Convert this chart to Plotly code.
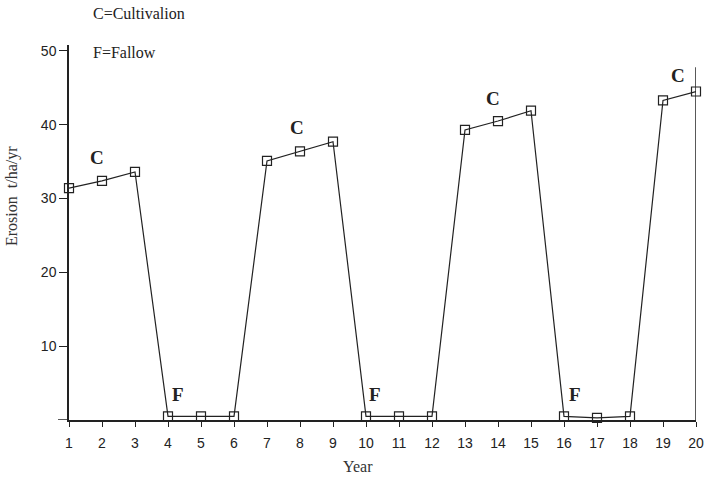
import plotly.graph_objects as go

years = list(range(1, 21))
erosion = [31.4, 32.4, 33.6, 0.5, 0.5, 0.5, 35.1, 36.4, 37.7, 0.5,
           0.5, 0.5, 39.3, 40.5, 41.9, 0.5, 0.3, 0.5, 43.3, 44.5]
x_ticks = list(range(1, 21))
y_ticks = [10, 20, 30, 40, 50]

c_labels_x = [1.85, 7.9, 13.85, 19.45]
c_labels_y = [35.5, 39.6, 43.6, 46.7]
f_labels_x = [4.3, 10.27, 16.33]
f_labels_y = [3.4, 3.5, 3.5]

serif = "Liberation Serif, Times New Roman, serif"
sans = "Liberation Sans, Arial, sans-serif"

W, H = 708, 479
L, R, T, B = 69, 12, 45, 59

def px(xp):
    return (xp - L) / (W - L - R)

def py(yp):
    return 1 - (yp - T) / (H - T - B)

fig = go.Figure()
fig.add_trace(go.Scatter(
    x=years, y=erosion, mode="lines+markers",
    line=dict(color="#222", width=1.2),
    marker=dict(symbol="square-open", size=9, color="#222", line=dict(width=1.2)),
    showlegend=False, cliponaxis=False,
))

for x, y in zip(c_labels_x, c_labels_y):
    fig.add_annotation(x=x, y=y, text="<b>C</b>", showarrow=False,
                       xanchor="center", yanchor="middle",
                       font=dict(family=serif, size=19, color="#222"))
for x, y in zip(f_labels_x, f_labels_y):
    fig.add_annotation(x=x, y=y, text="<b>F</b>", showarrow=False,
                       xanchor="center", yanchor="middle",
                       font=dict(family=serif, size=19, color="#222"))

fig.add_annotation(x=px(91), y=py(13), xref="paper", yref="paper", xanchor="left",
                   yanchor="middle", text="C=Cultivalion", showarrow=False,
                   font=dict(family=serif, size=16, color="#222"))
fig.add_annotation(x=px(91), y=py(53), xref="paper", yref="paper", xanchor="left",
                   yanchor="middle", text="F=Fallow", showarrow=False,
                   font=dict(family=serif, size=16, color="#222"))
fig.add_annotation(x=px(12), y=py(196), xref="paper", yref="paper",
                   xanchor="center", yanchor="middle",
                   text="Erosion  t/ha/yr", textangle=-90, showarrow=False,
                   font=dict(family=serif, size=16, color="#333"))
fig.add_annotation(x=px(358), y=py(466), xref="paper", yref="paper",
                   xanchor="center", yanchor="middle",
                   text="Year", showarrow=False,
                   font=dict(family=serif, size=16, color="#333"))

fig.add_shape(type="line", x0=20, x1=20, y0=0, y1=47.8, xref="x", yref="y",
              line=dict(color="#222", width=1.5))
fig.add_shape(type="line", x0=px(58), x1=0, y0=0, y1=0, xref="paper", yref="y",
              line=dict(color="#222", width=1.5))

fig.update_xaxes(range=[1, 20], tickvals=x_ticks, ticks="outside", ticklen=5,
                 tickcolor="#222", showline=True, linecolor="#222", linewidth=1.5,
                 showgrid=False, zeroline=False, ticklabelstandoff=4, automargin=False,
                 tickfont=dict(family=sans, size=14, color="#222"))
fig.update_yaxes(range=[0, 50.8], tickvals=y_ticks, ticks="outside", ticklen=8,
                 tickcolor="#222", showline=True, linecolor="#222", linewidth=1.5,
                 showgrid=False, zeroline=False, automargin=False,
                 tickfont=dict(family=sans, size=14, color="#222"))

fig.update_layout(width=W, height=H, margin=dict(l=L, r=R, t=T, b=B, autoexpand=False),
                  plot_bgcolor="white", paper_bgcolor="white")

fig.write_html("out.html", config={"displayModeBar": False},
               post_script="document.body.style.margin='0';document.body.style.overflow='hidden';")
